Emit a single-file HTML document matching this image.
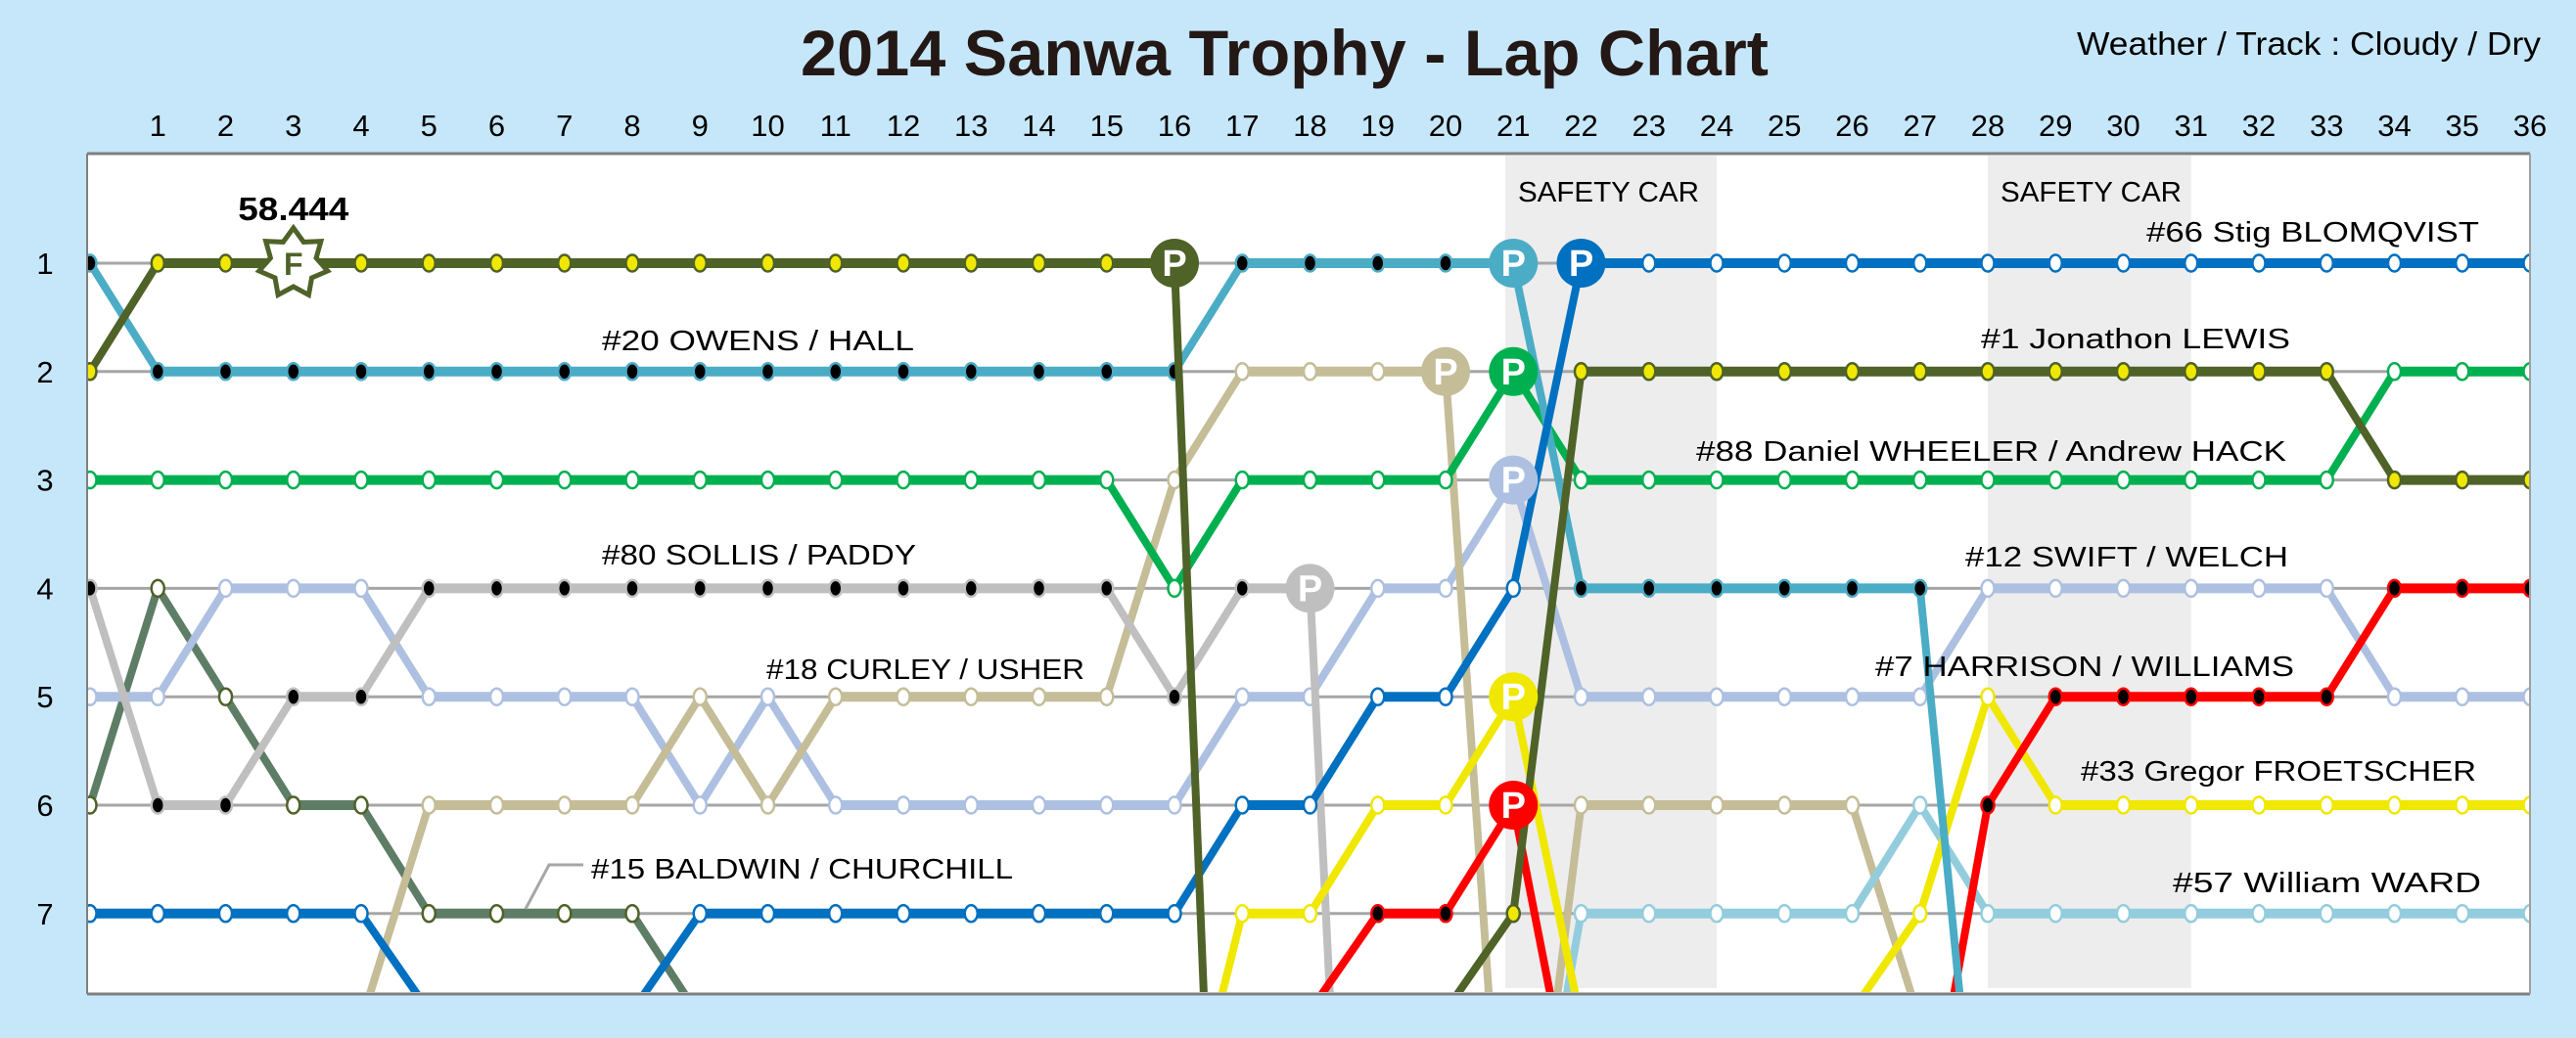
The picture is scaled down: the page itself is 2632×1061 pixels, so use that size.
<!DOCTYPE html>
<html><head><meta charset="utf-8"><title>2014 Sanwa Trophy - Lap Chart</title>
<style>
html,body{margin:0;padding:0;background:#c6e7f9;width:2632px;height:1061px;overflow:hidden;}
svg{display:block;font-family:"Liberation Sans",sans-serif;}
</style></head>
<body>
<svg id="chart" width="2632" height="1061" viewBox="0 0 2632 1061" xmlns="http://www.w3.org/2000/svg">
<defs><clipPath id="plotclip"><rect x="89" y="157" width="2496" height="857"/></clipPath></defs>
<rect x="0" y="0" width="2632" height="1061" fill="#c6e7f9"/>
<text x="818" y="77" font-size="66" font-weight="bold" fill="#231815" textLength="989" lengthAdjust="spacingAndGlyphs">2014 Sanwa Trophy - Lap Chart</text>
<text x="2122" y="56" font-size="33" fill="#000" textLength="474" lengthAdjust="spacingAndGlyphs">Weather / Track : Cloudy / Dry</text>
<rect x="89" y="157" width="2496" height="859" fill="#fff"/>
<g id="bands"></g>
<g id="grid"></g>
<g id="xticks"></g>
<g id="yticks"></g>
<g id="series" clip-path="url(#plotclip)"></g>
<g id="pits" clip-path="url(#plotclip)"></g>
<g id="fastest"></g>
<line x1="89" y1="157" x2="2585" y2="157" stroke="#7f7f7f" stroke-width="3"/>
<line x1="89" y1="157" x2="89" y2="1016" stroke="#7f7f7f" stroke-width="2"/>
<line x1="89" y1="1016" x2="2585" y2="1016" stroke="#7f7f7f" stroke-width="3"/>
<line x1="2585" y1="157" x2="2585" y2="1016" stroke="#9f9f9f" stroke-width="2"/>
<g font-size="29" fill="#000">
<text x="615" y="358" textLength="319" lengthAdjust="spacingAndGlyphs">#20  OWENS / HALL</text>
<text x="615" y="577" textLength="321" lengthAdjust="spacingAndGlyphs">#80  SOLLIS / PADDY</text>
<text x="783" y="694" textLength="325" lengthAdjust="spacingAndGlyphs">#18 CURLEY / USHER</text>
<text x="604" y="898" textLength="431" lengthAdjust="spacingAndGlyphs">#15 BALDWIN / CHURCHILL</text>
<polyline points="596,884 561,884 537,929" fill="none" stroke="#a6a6a6" stroke-width="3"/>
<text x="2193" y="247" textLength="340" lengthAdjust="spacingAndGlyphs">#66  Stig BLOMQVIST</text>
<text x="2024" y="356" textLength="316" lengthAdjust="spacingAndGlyphs">#1  Jonathon  LEWIS</text>
<text x="1733" y="471" textLength="603" lengthAdjust="spacingAndGlyphs">#88  Daniel WHEELER / Andrew HACK</text>
<text x="2008" y="579" textLength="330" lengthAdjust="spacingAndGlyphs">#12  SWIFT / WELCH</text>
<text x="1916" y="691" textLength="428" lengthAdjust="spacingAndGlyphs">#7  HARRISON / WILLIAMS</text>
<text x="2126" y="798" textLength="404" lengthAdjust="spacingAndGlyphs">#33  Gregor FROETSCHER</text>
<text x="2220" y="912" textLength="315" lengthAdjust="spacingAndGlyphs">#57  William WARD</text>
</g>
</svg>
<script>
// ---- data ----
const laps = [0,1,2,3,4,5,6,7,8,9,10,11,12,13,14,15,16,17,18,19,20,21,22,23,24,25,26,27,28,29,30,31,32,33,34,35,36];
const lapTickLabels = ["1","2","3","4","5","6","7","8","9","10","11","12","13","14","15","16","17","18","19","20","21","22","23","24","25","26","27","28","29","30","31","32","33","34","35","36"];
const positionTickLabels = ["1","2","3","4","5","6","7"];
const safetyCarStart = [20.88, 28];
const safetyCarEnd = [24, 31];
const fastestLapCar = "1";
const fastestLapNo = 3;
const fastestLapTime = "58.444";

const pos1  = [2,1,1,1,1,1,1,1,1,1,1,1,1,1,1,1,1,16.6,12,10,7.9,7,2,2,2,2,2,2,2,2,2,2,2,2,3,3,3];
const pos20 = [1,2,2,2,2,2,2,2,2,2,2,2,2,2,2,2,2,1,1,1,1,1,4,4,4,4,4,4,10.4,12,12,12,12,12,12,12,12];
const pos66 = [7,7,7,7,7,7.9,8,8,7.9,7,7,7,7,7,7,7,7,6,6,5,5,4,1,1,1,1,1,1,1,1,1,1,1,1,1,1,1];
const pos88 = [3,3,3,3,3,3,3,3,3,3,3,3,3,3,3,3,4,3,3,3,3,2,3,3,3,3,3,3,3,3,3,3,3,3,2,2,2];
const pos80 = [4,6,6,5,5,4,4,4,4,4,4,4,4,4,4,4,5,4,4,16.8,17,17,17,17,17,17,17,17,17,17,17,17,17,17,17,17,17];
const pos18 = [9,9,9,9,8,6,6,6,6,5,6,5,5,5,5,5,3,2,2,2,2,11,6,6,6,6,6,8,9,9,9,9,9,9,9,9,9];
const pos12 = [5,5,4,4,4,5,5,5,5,6,5,6,6,6,6,6,6,5,5,4,4,3,5,5,5,5,5,5,4,4,4,4,4,4,5,5,5];
const pos7  = [12,12,12,12,12,12,12,12,12,12,12,12,12,12,12,12,12,12,7.9,7,7,6,9.2,9.5,9.5,9.5,9.5,9.5,6,5,5,5,5,5,4,4,4];
const pos33 = [10,10,10,10,10,10,10,10,10,10,10,10,10,10,10,10,9.5,7,7,6,6,5,8,8,8,8,7.9,7,5,6,6,6,6,6,6,6,6];
const pos57 = [12,12,12,12,12,12,12,12,12,12,12,12,12,12,12,12,12,12,12,12,12,10.5,7,7,7,7,7,6,7,7,7,7,7,7,7,7,7];
const pos15 = [6,4,5,6,6,7,7,7,7,7.96,9,9,9,9,9,9,9,9,9,9,9,9,9,9,9,9,9,9,9,9,9,9,9,9,9,9,9];

const pitLap = {"1":16,"20":21,"66":22,"88":21,"80":18,"18":20,"12":21,"7":21,"33":21};

// ---- styles ----
const cars = [
 {id:"15", data:pos15, line:"#5e7d66", fill:"#fff",    stroke:"#4f6228"},
 {id:"12", data:pos12, line:"#adc0e1", fill:"#fff",    stroke:"#adc0e1"},
 {id:"18", data:pos18, line:"#c4bd97", fill:"#fff",    stroke:"#c4bd97"},
 {id:"80", data:pos80, line:"#bfbfbf", fill:"#000",    stroke:"#bfbfbf"},
 {id:"57", data:pos57, line:"#93cddd", fill:"#fff",    stroke:"#93cddd"},
 {id:"33", data:pos33, line:"#f0e800", fill:"#fff",    stroke:"#f0e800"},
 {id:"7",  data:pos7,  line:"#ff0000", fill:"#000",    stroke:"#ff0000"},
 {id:"88", data:pos88, line:"#00b050", fill:"#fff",    stroke:"#00b050"},
 {id:"20", data:pos20, line:"#4bacc6", fill:"#000",    stroke:"#4bacc6"},
 {id:"66", data:pos66, line:"#0070c0", fill:"#fff",    stroke:"#0070c0"},
 {id:"1",  data:pos1,  line:"#4f6228", fill:"#f0e800", stroke:"#4f6228"}
];

const NS = "http://www.w3.org/2000/svg";
function xs(l){ return 92 + l*69.25; }
function ys(p){ return 269 + (p-1)*110.8; }
function mk(tag, attrs, parent){
  const e = document.createElementNS(NS, tag);
  for (const k in attrs) e.setAttribute(k, attrs[k]);
  parent.appendChild(e); return e;
}

// safety car bands
const bands = document.getElementById("bands");
safetyCarStart.forEach((s,i)=>{
  const r = mk("rect",{x:xs(s), y:159, width:xs(safetyCarEnd[i])-xs(s), height:851, fill:"#ededed"}, bands);
  
  
  const t = mk("text",{x:xs(s)+13, y:206, "font-size":29, fill:"#000", textLength:185, lengthAdjust:"spacingAndGlyphs"}, bands);
  t.textContent = "SAFETY CAR";
  
  
});

// grid rows
const grid = document.getElementById("grid");
positionTickLabels.forEach((lab,i)=>{
  const g = mk("line",{x1:xs(0), x2:xs(36), y1:ys(i+1), y2:ys(i+1), stroke:"#a6a6a6", "stroke-width":3}, grid);
  
  
});

// x ticks
const xt = document.getElementById("xticks");
lapTickLabels.forEach((lab,i)=>{
  const t = mk("text",{x:xs(i+1), y:139, "font-size":31, "text-anchor":"middle", fill:"#000"}, xt);
  t.textContent = lab;
  
  
});
// y ticks
const yt = document.getElementById("yticks");
positionTickLabels.forEach((lab,i)=>{
  const t = mk("text",{x:46, y:ys(i+1)+11, "font-size":31, "text-anchor":"middle", fill:"#000"}, yt);
  t.textContent = lab;
  
  
});

// series
const sg = document.getElementById("series");
const pg = document.getElementById("pits");
cars.forEach(c=>{
  const g = mk("g",{}, sg);
  
  
  for (let i=0;i<laps.length-1;i++){
    const a=c.data[i], b=c.data[i+1];
    if (a>8.5 && b>8.5) continue;
    const flat = a===b;
    const l = mk("line",{x1:xs(laps[i]), y1:ys(a), x2:xs(laps[i+1]), y2:ys(b), stroke:c.line, "stroke-width":flat?10:8, "stroke-linecap":"round"}, g);
    
    
  }
  laps.forEach((l,i)=>{
    const p=c.data[i];
    if (p>7.2 || p!==Math.round(p)) return;
    if (pitLap[c.id]===l) return;
    if (c.id===fastestLapCar && l===fastestLapNo) return;
    const d = mk("ellipse",{cx:xs(l), cy:ys(p), rx:6.5, ry:8.5, fill:c.fill, stroke:c.stroke, "stroke-width":2.5}, g);
    
    
  });
  if (pitLap[c.id]!==undefined){
    const l = pitLap[c.id], p = c.data[l];
    const pit = mk("g",{}, pg);
    
    
    mk("circle",{cx:xs(l), cy:ys(p), r:25, fill:c.line}, pit);
    const t = mk("text",{x:xs(l), y:ys(p)+13, "font-size":38, "font-weight":"bold", "text-anchor":"middle", fill:"#fff"}, pit);
    t.textContent = "P";
  }
});

// fastest lap star
const fg = document.getElementById("fastest");
(function(){
  const car = cars.find(c=>c.id===fastestLapCar);
  const cx = xs(fastestLapNo), cy = ys(car.data[fastestLapNo]);
  const pts=[];
  for(let k=0;k<14;k++){
    const r = k%2===0 ? 36 : 24;
    const ang = -Math.PI/2 + k*Math.PI/7;
    pts.push((cx+r*Math.cos(ang)).toFixed(1)+","+(cy+r*Math.sin(ang)).toFixed(1));
  }
  const star = mk("polygon",{points:pts.join(" "), fill:"#fff", stroke:"#4f6228", "stroke-width":5, "stroke-linejoin":"miter"}, fg);
  
  
  const f = mk("text",{x:cx, y:cy+12, "font-size":32, "font-weight":"bold", "text-anchor":"middle", fill:"#4f6228"}, fg);
  f.textContent = "F";
  
  
  const t = mk("text",{x:cx, y:225, "font-size":33, "font-weight":"bold", "text-anchor":"middle", fill:"#000", textLength:113, lengthAdjust:"spacingAndGlyphs"}, fg);
  t.textContent = fastestLapTime;
  
  
})();
</script>
</body></html>
